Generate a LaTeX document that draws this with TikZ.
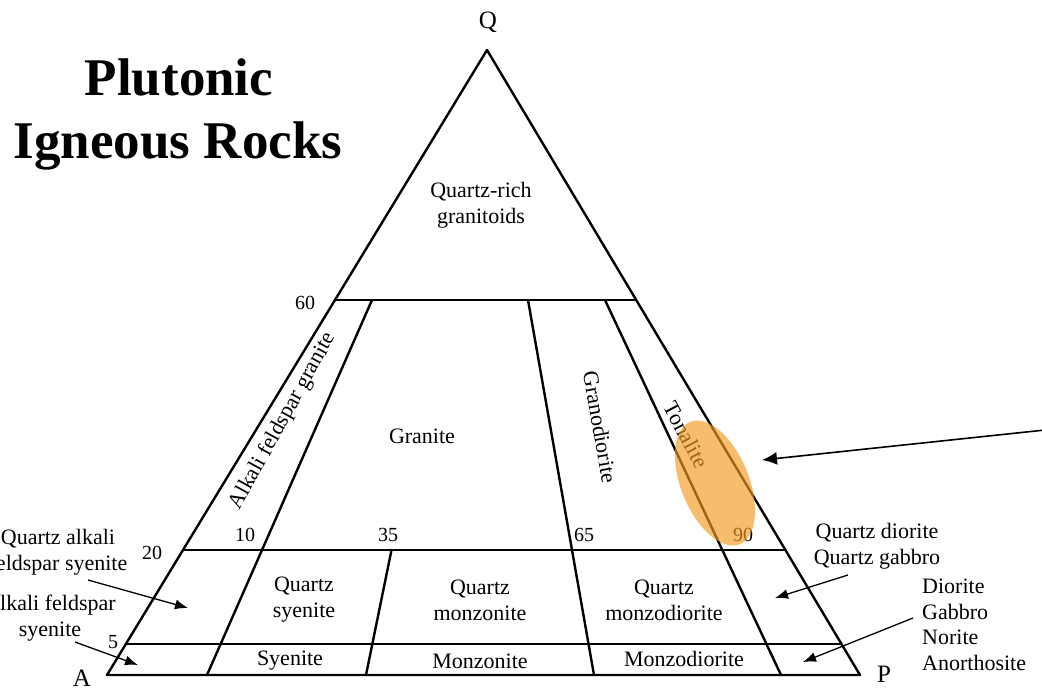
\documentclass[tikz,border=0pt]{standalone}
\usepackage{fontspec}
\setmainfont{Liberation Serif}
\usetikzlibrary{arrows.meta,calc,shapes.geometric}
\definecolor{hilite}{RGB}{241,155,32}
\begin{document}
\begin{tikzpicture}[x=1pt,y=-1pt,
  edge/.style={line width=2.4pt, line cap=round, line join=round},
  lbl/.style={font=\fontsize{22}{26}\selectfont, align=center, inner sep=0pt},
  lbll/.style={font=\fontsize{22}{25.5}\selectfont, align=left, inner sep=0pt},
  num/.style={font=\fontsize{20}{24}\selectfont, inner sep=0pt},
  vtx/.style={font=\fontsize{25}{30}\selectfont, inner sep=0pt},
  ptr/.style={line width=1.3pt, -{Latex[length=13pt,width=10pt]}},
  bigptr/.style={line width=1.6pt, -{Latex[length=15pt,width=13pt]}},
  ttl/.style={font=\fontsize{53}{63}\selectfont\bfseries, inner sep=0pt, anchor=base}
]
\fill[white] (0,0) rectangle (1042,689);
\useasboundingbox (0,0) rectangle (1042,689);
% vertices
\coordinate (Q) at (487,50);
\coordinate (A) at (107,675);
\coordinate (P) at (860,675);
% horizontal levels
\coordinate (l60) at ($(A)!0.6!(Q)$);
\coordinate (r60) at ($(P)!0.6!(Q)$);
\coordinate (l20) at ($(A)!0.2!(Q)$);
\coordinate (r20) at ($(P)!0.2!(Q)$);
\coordinate (l5) at ($(A)!0.05!(Q)$);
\coordinate (r5) at ($(P)!0.05!(Q)$);
% internal boundaries
\coordinate (t10) at (372,300);
\coordinate (b10) at (207,675);
\coordinate (t35) at (391.5,550);
\coordinate (b35) at (366,675);
\coordinate (t65) at (528,300);
\coordinate (b65) at (594,675);
\coordinate (t90) at (605,300);
\coordinate (b90) at (781,675);

\draw[edge] (A) -- (Q) -- (P) -- cycle;
\draw[edge] (l60) -- (r60);
\draw[edge] (l20) -- (r20);
\draw[edge] (l5) -- (r5);
\draw[edge] (t10) -- (b10);
\draw[edge] (t35) -- (b35);
\draw[edge] (t65) -- (b65);
\draw[edge] (t90) -- (b90);

% title
\node[ttl] (title1) at (179,95) {Plutonic};
\node[ttl] (title2) at (178,158) {Igneous Rocks};

% vertex labels
\node[vtx] (labQ) at (488,22) {Q};
\node[vtx] (labA) at (82,678) {A};
\node[vtx] (labP) at (884,674) {P};

% numbers
\node[num] (n60) at (305,303) {60};
\node[num] (n20) at (152,553) {20};
\node[num] (n10) at (245,535) {10};
\node[num] (n35) at (388,535) {35};
\node[num] (n65) at (584,535) {65};
\node[num] (n90) at (743,535) {90};
\node[num] (n5) at (113,642) {5};

% field labels
\node[lbl] (qrg) at (481,205) {Quartz-rich\\granitoids};
\node[lbl] (gra) at (422,436) {Granite};
\node[lbl, rotate=61] (afg) at (283,421) {Alkali feldspar granite};
\node[lbl, rotate=-80] (gd) at (600,427) {Granodiorite};
\node[lbl, rotate=-62] (ton) at (686,435) {Tonalite};
\node[lbl] (qs) at (304,600) {Quartz\\syenite};
\node[lbl] (qm) at (480,600) {Quartz\\monzonite};
\node[lbl] (qmd) at (664,600) {Quartz\\monzodiorite};
\node[lbl] (sy) at (290,661) {Syenite};
\node[lbl] (mz) at (480,661) {Monzonite};
\node[lbl] (mzd) at (684,659) {Monzodiorite};

% outside labels
\node[lbl] (qafs) at (58,552) {Quartz alkali\\feldspar syenite};
\node[lbl] (afs) at (50,618) {Alkali feldspar\\syenite};
\node[lbl] (qdg) at (877,546) {Quartz diorite\\Quartz gabbro};
\node[lbll, anchor=west] (dgna) at (922,625) {Diorite\\Gabbro\\Norite\\Anorthosite};

% pointers
\coordinate (s1) at (88,580);  \coordinate (e1) at (188,608);
\coordinate (s2) at (75,642);  \coordinate (e2) at (138,665);
\coordinate (s3) at (848,575); \coordinate (e3) at (775,598);
\coordinate (s4) at (913,618); \coordinate (e4) at (803,662);
\draw[ptr] (s1) -- (e1);
\draw[ptr] (s2) -- (e2);
\draw[ptr] (s3) -- (e3);
\draw[ptr] (s4) -- (e4);

% highlight
\node[ellipse, minimum width=132pt, minimum height=68pt, rotate=-68,
      fill=hilite, fill opacity=0.65, inner sep=0pt] (hl) at (715,483) {};
\coordinate (bigs) at (1045,430);
\draw[bigptr] (bigs) -- (762,460);
\end{tikzpicture}
\end{document}
